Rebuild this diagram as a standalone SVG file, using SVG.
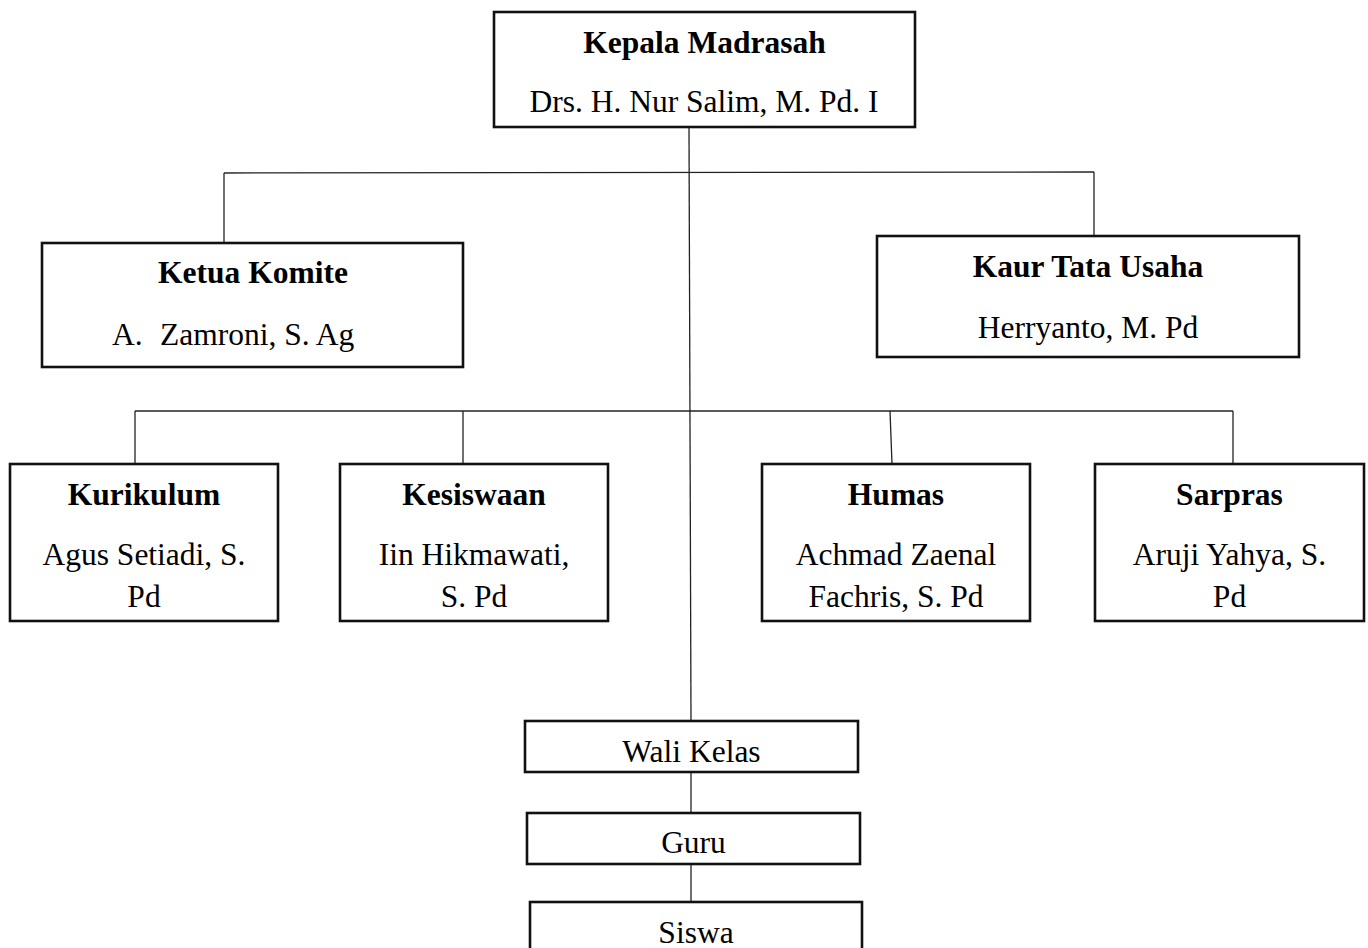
<svg xmlns="http://www.w3.org/2000/svg" width="1368" height="948" viewBox="0 0 1368 948">
<style>
.box{fill:#fff;stroke:#111;stroke-width:2.6}
.con line{stroke:#222;stroke-width:1.3}
text{font-family:"Liberation Serif","Times New Roman",serif;font-size:31.5px;fill:#000;text-anchor:middle}
.b{font-weight:bold}
</style>
<rect width="1368" height="948" fill="#fff"/>
<g id="connectors" class="con">
<line x1="689" y1="127" x2="691" y2="721"/>
<line x1="224" y1="173" x2="1094" y2="172"/>
<line x1="224" y1="173" x2="224" y2="243"/>
<line x1="1094" y1="172" x2="1094" y2="236"/>
<line x1="135" y1="411" x2="1233" y2="411"/>
<line x1="135" y1="411" x2="135" y2="464"/>
<line x1="463" y1="411" x2="463" y2="464"/>
<line x1="890" y1="411" x2="892" y2="464"/>
<line x1="1233" y1="411" x2="1233" y2="464"/>
<line x1="691" y1="772" x2="691" y2="813"/>
<line x1="691" y1="864" x2="691" y2="902"/>
</g>
<g id="kepala">
<rect class="box" x="494" y="12" width="421" height="115"/>
<text class="b" x="704.5" y="53">Kepala Madrasah</text>
<text x="704" y="112">Drs. H. Nur Salim, M. Pd. I</text>
</g>
<g id="ketua-komite">
<rect class="box" x="42" y="243" width="421" height="124"/>
<text class="b" x="253" y="283">Ketua Komite</text>
<text x="112" y="345" style="text-anchor:start">A.</text>
<text x="160" y="345" style="text-anchor:start">Zamroni, S. Ag</text>
</g>
<g id="kaur-tu">
<rect class="box" x="877" y="236" width="422" height="121"/>
<text class="b" x="1088" y="277">Kaur Tata Usaha</text>
<text x="1088" y="338">Herryanto, M. Pd</text>
</g>
<g id="kurikulum">
<rect class="box" x="10" y="464" width="268" height="157"/>
<text class="b" x="144" y="505">Kurikulum</text>
<text x="144" y="565">Agus Setiadi, S.</text>
<text x="144" y="607">Pd</text>
</g>
<g id="kesiswaan">
<rect class="box" x="340" y="464" width="268" height="157"/>
<text class="b" x="474" y="505">Kesiswaan</text>
<text x="474" y="565">Iin Hikmawati,</text>
<text x="474" y="607">S. Pd</text>
</g>
<g id="humas">
<rect class="box" x="762" y="464" width="268" height="157"/>
<text class="b" x="896" y="505">Humas</text>
<text x="896" y="565">Achmad Zaenal</text>
<text x="896" y="607">Fachris, S. Pd</text>
</g>
<g id="sarpras">
<rect class="box" x="1095" y="464" width="269" height="157"/>
<text class="b" x="1229.5" y="505">Sarpras</text>
<text x="1229.5" y="565">Aruji Yahya, S.</text>
<text x="1229.5" y="607">Pd</text>
</g>
<g id="wali-kelas">
<rect class="box" x="525" y="721" width="333" height="51"/>
<text x="691.5" y="762">Wali Kelas</text>
</g>
<g id="guru">
<rect class="box" x="527" y="813" width="333" height="51"/>
<text x="693.5" y="853">Guru</text>
</g>
<g id="siswa">
<rect class="box" x="530" y="902" width="332" height="60"/>
<text x="696" y="943">Siswa</text>
</g>
</svg>
